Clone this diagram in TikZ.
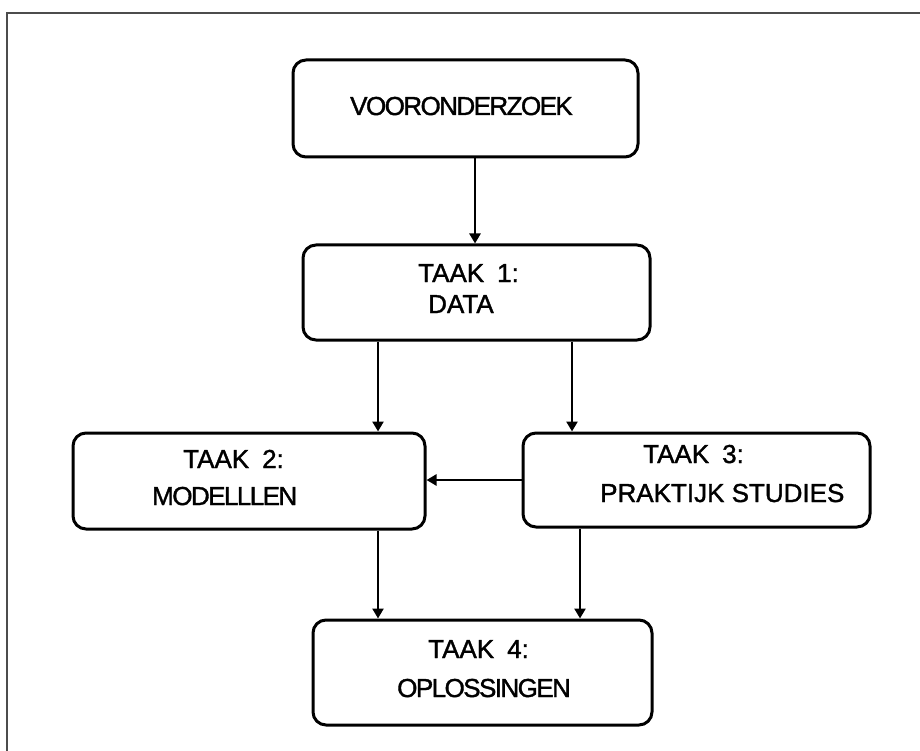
\documentclass[tikz,border=0pt]{standalone}
\usepackage{fontspec}
\setmainfont{Liberation Sans}
\newfontfamily\lblfont[FakeBold=1.4]{Liberation Sans}
\newfontfamily\tightfont[LetterSpace=-6,FakeBold=1.4]{Liberation Sans}
\usetikzlibrary{arrows.meta}
\newcommand{\tgap}{\hspace{0.5em}}
\begin{document}
\begin{tikzpicture}[x=1pt,y=-1pt,
  taskbox/.style={draw=black, line width=3pt, rounded corners=13pt, fill=none, inner sep=0pt},
  arr/.style={line width=2.6pt, -{Triangle[width=11pt,length=10pt]}},
  lbl/.style={anchor=base west, inner sep=0pt, font=\lblfont\fontsize{26}{30}\selectfont},
  tlbl/.style={anchor=base west, inner sep=0pt, font=\tightfont\fontsize{26}{30}\selectfont},
  frameline/.style={draw=black!70, line width=2.2pt}]
\useasboundingbox (0,0) rectangle (920,751);
\fill[white] (0,0) rectangle (920,751);
% frame
\coordinate (ftl) at (7,13);
\coordinate (ftr) at (920,13);
\coordinate (fbl) at (7,751);
\draw[frameline] (ftr) -- (ftl) -- (fbl);
% boxes
\node[taskbox, minimum width=345pt, minimum height=97pt] (v) at (465.5,108.5) {};
\node[taskbox, minimum width=347pt, minimum height=95pt] (t1) at (476.5,292.5) {};
\node[taskbox, minimum width=352pt, minimum height=96pt] (t2) at (249,481) {};
\node[taskbox, minimum width=347pt, minimum height=94pt] (t3) at (696.5,480) {};
\node[taskbox, minimum width=339pt, minimum height=105pt] (t4) at (482.5,672.5) {};
% labels
\node[tlbl] (vl) at (350,115) {VOORONDERZOEK};
\node[lbl] (t1a) at (418,282) {TAAK\tgap 1:};
\node[lbl] (t1b) at (428,313) {DATA};
\node[lbl] (t2a) at (183,468) {TAAK\tgap 2:};
\node[tlbl] (t2b) at (152,505) {MODELLLEN};
\node[lbl] (t3a) at (643,463) {TAAK\tgap 3:};
\node[lbl] (t3b) at (600,502) {PRAKTIJK STUDIES};
\node[lbl] (t4a) at (428,658) {TAAK\tgap 4:};
\node[tlbl] (t4b) at (397,697) {OPLOSSINGEN};
% connectors
\draw[arr] ([xshift=9.5pt]v.south) -- ([xshift=-1.5pt]t1.north);
\draw[arr] ([xshift=-98.5pt]t1.south) -- ([xshift=129pt]t2.north);
\draw[arr] ([xshift=95.5pt]t1.south) -- ([xshift=-124.5pt]t3.north);
\draw[arr] (t3.west) -- (t3.west -| t2.east);
\draw[arr] ([xshift=129pt]t2.south) -- ([xshift=-104.5pt]t4.north);
\draw[arr] ([xshift=-116.5pt]t3.south) -- ([xshift=97.5pt]t4.north);
\end{tikzpicture}
\end{document}
